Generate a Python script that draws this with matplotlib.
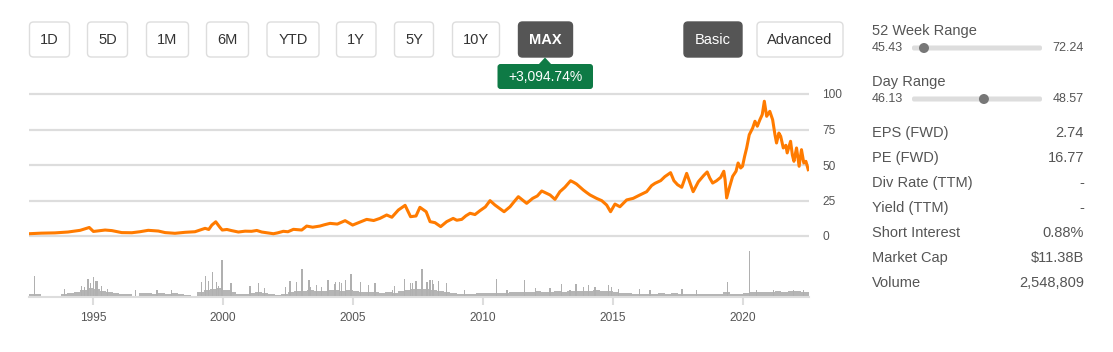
import numpy as np
import matplotlib
matplotlib.use('Agg')
import matplotlib.pyplot as plt
from matplotlib.patches import FancyBboxPatch, Circle, Polygon

plt.rcParams['font.family'] = ['Liberation Sans', 'DejaVu Sans']

# price history (decimal year, price in $)
price_years = [1992.53, 1993.0, 1993.53, 1994.03, 1994.5, 1994.85, 1995.01, 1995.2, 1995.46, 1995.72,
               1996.1, 1996.49, 1996.8, 1997.12, 1997.51, 1997.77, 1998.15, 1998.54, 1998.92, 1999.31,
               1999.45, 1999.57, 1999.72, 1999.88, 1999.97, 2000.15, 2000.33, 2000.59, 2000.85, 2001.1,
               2001.3, 2001.49, 2001.94, 2002.1, 2002.32, 2002.5, 2002.71, 2003.03, 2003.22, 2003.45,
               2003.73, 2003.9, 2004.12, 2004.4, 2004.7, 2004.99, 2005.25, 2005.53, 2005.8,
               2006.04, 2006.3, 2006.5, 2006.75, 2007.01, 2007.22, 2007.43, 2007.58, 2007.82, 2007.97,
               2008.16, 2008.38, 2008.61, 2008.86, 2009.0, 2009.19, 2009.35, 2009.51, 2009.7, 2009.89,
               2010.1, 2010.28, 2010.47, 2010.65, 2010.82, 2011.05, 2011.2, 2011.37, 2011.69, 2011.92,
               2012.1, 2012.27, 2012.59, 2012.78, 2012.97, 2013.16, 2013.38, 2013.5, 2013.61, 2013.87,
               2014.0, 2014.13, 2014.38, 2014.58, 2014.77, 2014.92, 2015.09, 2015.28, 2015.54, 2015.79,
               2016.05, 2016.31, 2016.5, 2016.63, 2016.85, 2017.01, 2017.23, 2017.36, 2017.5, 2017.66,
               2017.85, 2018.1, 2018.3, 2018.51, 2018.64, 2018.74, 2018.85,
               2019.0, 2019.16, 2019.28, 2019.33, 2019.39, 2019.49, 2019.62, 2019.75, 2019.83,
               2019.93, 2020.0, 2020.08, 2020.16, 2020.26, 2020.39, 2020.48, 2020.57, 2020.67, 2020.76,
               2020.84, 2020.93, 2021.05, 2021.16, 2021.25, 2021.31, 2021.4, 2021.47, 2021.57, 2021.67,
               2021.72, 2021.85, 2021.92, 2021.98, 2022.08, 2022.18, 2022.27, 2022.36, 2022.44, 2022.53]
price_values = [1.6, 2.0, 2.2, 2.8, 4.0, 6.0, 3.2, 3.6, 4.2, 3.8,
                2.4, 2.3, 3.0, 4.0, 3.5, 2.4, 1.9, 2.6, 3.0, 5.4,
                4.6, 7.7, 10.0, 6.1, 4.2, 4.6, 3.8, 2.8, 3.4, 3.3,
                3.9, 2.8, 1.6, 2.2, 3.3, 3.0, 4.7, 4.2, 7.0, 6.2,
                7.0, 7.9, 8.9, 8.4, 10.8, 7.7, 9.6, 11.7, 10.9,
                12.4, 14.8, 13.2, 18.3, 21.6, 13.6, 14.1, 20.2, 17.1, 10.1,
                9.4, 6.6, 10.1, 12.4, 11.1, 11.7, 14.2, 16.0, 15.1, 17.8,
                20.5, 24.9, 21.8, 19.4, 17.1, 20.6, 24.0, 27.7, 23.0, 26.5,
                28.2, 31.7, 28.9, 25.8, 31.2, 34.3, 38.9, 37.8, 36.6, 32.4,
                30.6, 28.9, 26.5, 24.9, 21.8, 17.1, 22.5, 20.6, 25.4, 26.5,
                28.9, 31.2, 35.5, 37.1, 39.0, 41.8, 44.6, 38.9, 36.1, 34.3,
                44.1, 31.2, 38.2, 42.7, 45.1, 40.8, 37.3,
                38.9, 41.3, 45.6, 39.6, 26.8, 33.8, 42.0, 45.6, 51.4,
                47.9, 49.1, 56.0, 62.0, 71.3, 76.0, 80.8, 77.3, 81.9, 85.5,
                94.9, 84.3, 87.8, 81.9, 71.3, 65.5, 72.5, 70.2, 62.0, 63.9,
                58.5, 66.7, 57.0, 52.6, 62.0, 49.1, 60.8, 51.4, 52.6, 46.7]

# quarterly typical volume (millions of shares), first quarter starts mid-1992
vol_first_quarter = 1992.5
vol_base = [1.5, 1.5,
            0.5, 0.25, 0.25, 1.5,
            2.0, 2.5, 3.5, 4.5,
            4.0, 3.0, 2.5, 2.0,
            1.5, 1.5, 0.25, 2.0,
            2.0, 1.5, 2.0, 1.5,
            2.0, 1.5, 1.0, 0.25,
            2.5, 3.5, 4.0, 4.5,
            3.5, 2.5, 1.5, 1.5,
            2.0, 2.5, 2.0, 1.5,
            1.0, 1.5, 2.5, 3.0,
            3.0, 3.5, 3.0, 3.0,
            3.5, 3.5, 3.0, 3.5,
            3.0, 2.5, 2.5, 2.5,
            2.0, 2.5, 2.0, 3.0,
            3.5, 4.0, 4.0, 4.0,
            3.5, 3.0, 2.5, 2.0,
            1.5, 1.5, 1.5, 2.0,
            2.0, 2.0, 2.0, 2.0,
            2.5, 2.5, 2.5, 2.5,
            3.0, 2.5, 2.5, 3.0,
            2.5, 3.0, 3.0, 3.0,
            3.0, 3.5, 3.0, 3.0,
            2.5, 2.0, 2.0, 1.5,
            1.5, 1.5, 1.5, 2.0,
            1.5, 2.0, 1.5, 1.5,
            1.5, 1.5, 1.5, 1.5,
            1.5, 2.5, 1.5, 1.5,
            2.0, 2.5, 2.5, 2.5,
            2.5, 3.0, 2.5, 3.0,
            3.0, 2.5, 2.5]

# single-day volume spikes (decimal year, millions)
spike_years = [1992.75, 1993.89, 1994.55, 1994.66, 1994.8, 1994.9, 1995.0, 1995.11, 1995.15,
               1995.33, 1995.54, 1996.64, 1997.46, 1998.01, 1999.18, 1999.34, 1999.45, 1999.58,
               1999.76, 1999.83, 1999.96, 2000.31, 2001.04, 2001.35, 2001.59, 2002.41, 2002.58,
               2002.83, 2003.04, 2003.31, 2003.37, 2003.6, 2003.79, 2004.04, 2004.3, 2004.34,
               2004.48, 2004.55, 2004.73, 2004.93, 2005.3, 2005.6, 2005.85, 2006.54, 2006.6,
               2007.0, 2007.22, 2007.3, 2007.43, 2007.66, 2007.85, 2007.97, 2008.05, 2008.1,
               2008.31, 2008.6, 2009.29, 2010.52, 2010.93, 2011.62, 2012.04, 2012.59, 2013.04,
               2013.36, 2013.59, 2013.87, 2014.06, 2014.32, 2014.83, 2014.96, 2015.22, 2016.05,
               2016.44, 2017.67, 2018.23, 2019.43, 2020.26, 2020.54, 2021.18, 2021.95, 2022.34]
spike_vols = [10.5, 4, 5.5, 5, 9, 7, 10, 8, 8,
              5.5, 4, 3.5, 3.5, 3.5, 7.5, 10.5, 8, 12.5,
              7.5, 5.5, 18.5, 7, 5.5, 7, 4.5, 5, 8,
              7.5, 14, 8.5, 5, 6, 5, 8.5, 6.5, 7.5,
              7.5, 7, 8.5, 11.5, 7.5, 6, 7, 3.5, 5.5,
              9, 7, 7, 8, 14, 7.5, 8.5, 8.5, 6.5,
              8, 7, 3.5, 9, 3.5, 8.5, 4.5, 4.5, 6.3,
              3.7, 6.3, 5, 5.8, 5, 5.8, 5, 4, 4,
              3.3, 4, 3.3, 7.5, 23, 3.3, 3.3, 3.3, 3.3]

year_ticks = [1995, 2000, 2005, 2010, 2015, 2020]
price_ticks = [0, 25, 50, 75, 100]

range_buttons = ['1D', '5D', '1M', '6M', 'YTD', '1Y', '5Y', '10Y', 'MAX']
change_label = '+3,094.74%'
stats_labels = ['EPS (FWD)', 'PE (FWD)', 'Div Rate (TTM)', 'Yield (TTM)',
                'Short Interest', 'Market Cap', 'Volume']
stats_values = ['2.74', '16.77', '-', '-', '0.88%', '$11.38B', '2,548,809']
week52 = (45.43, 72.24, 47.9)
day_range = (46.13, 48.57, 47.48)

W, H = 1113, 352
fig = plt.figure(figsize=(W / 100, H / 100), dpi=100)


def px_rect(x0, y0, x1, y1):
    return [x0 / W, 1 - y1 / H, (x1 - x0) / W, (y1 - y0) / H]


xlim = (1992.53, 2022.56)
grey_txt = '#555555'

# price chart
ax = fig.add_axes(px_rect(29, 91.16, 809, 238.84))
ax.plot(price_years, price_values, color='#ff7b00', lw=2.2, solid_joinstyle='round')
ax.set_xlim(*xlim)
ax.set_ylim(-2, 102)
ax.set_yticks(price_ticks)
ax.yaxis.tick_right()
ax.grid(axis='y', color='#dddddd', lw=1.6)
ax.set_axisbelow(True)
ax.tick_params(axis='y', length=0, pad=9.4, labelsize=8.6, labelcolor=grey_txt)
ax.set_xticks([])
for s in ax.spines.values():
    s.set_visible(False)

# volume chart
vax = fig.add_axes(px_rect(29, 250, 809, 297))
q_pos = vol_first_quarter + 0.25 * np.arange(len(vol_base))
vax.bar(q_pos, vol_base, width=0.25, align='edge', color='#b5b5b5', lw=0)
vax.bar(spike_years, spike_vols, width=0.045, color='#b0b0b0', lw=0)
vax.set_xlim(*xlim)
vax.set_ylim(0, 23.5)
vax.set_yticks([])
vax.set_xticks(year_ticks)
vax.set_xticklabels([str(y) for y in year_ticks])
vax.tick_params(axis='x', length=6, width=1.5, color='#dddddd', pad=5,
                labelsize=8.6, labelcolor=grey_txt)
for k, s in vax.spines.items():
    s.set_visible(k == 'bottom')
vax.spines['bottom'].set_color('#dddddd')
vax.spines['bottom'].set_linewidth(1.5)
vax.patch.set_alpha(0)

# overlay in pixel coordinates for the page widgets
ov = fig.add_axes([0, 0, 1, 1])
ov.set_xlim(0, W)
ov.set_ylim(H, 0)
ov.axis('off')
ov.patch.set_alpha(0)


def button(x0, x1, label, dark=False, bold=False):
    ov.add_patch(FancyBboxPatch((x0, 22), x1 - x0, 35,
                                boxstyle='round,pad=0,rounding_size=4',
                                fc='#555555' if dark else 'white',
                                ec='#555555' if dark else '#dddddd', lw=1))
    ov.text((x0 + x1) / 2, 40, label, ha='center', va='center',
            color='white' if dark else '#333333', fontsize=10.5,
            fontweight='bold' if bold else 'normal')


btn_edges = [(29.5, 69.5), (87.5, 127.5), (146.5, 188.5), (206.5, 248.5), (267, 319),
             (336.5, 376), (394.5, 433.5), (452.5, 499.5), (518.5, 572.5)]
for lab, (x0, x1) in zip(range_buttons, btn_edges):
    button(x0, x1, lab, dark=(lab == 'MAX'), bold=(lab == 'MAX'))
button(684, 742, 'Basic', dark=True)
button(757, 843, 'Advanced')

# change badge
ov.add_patch(FancyBboxPatch((497.5, 64), 95.5, 25, boxstyle='round,pad=0,rounding_size=3',
                            fc='#0e7a45', ec='none'))
ov.add_patch(Polygon([(538.5, 64.5), (545, 57.5), (551.5, 64.5)], closed=True,
                     fc='#0e7a45', ec='none'))
ov.text(545.2, 76.8, change_label, ha='center', va='center', color='white', fontsize=10)


# right side panel
def range_row(y_title, title, lo, hi, cur):
    ov.text(872, y_title, title, ha='left', va='center', color=grey_txt, fontsize=10.5)
    yb = y_title + 17
    ov.text(872, yb, f'{lo:.2f}', ha='left', va='center', color=grey_txt, fontsize=9)
    ov.text(1084, yb, f'{hi:.2f}', ha='right', va='center', color=grey_txt, fontsize=9)
    ov.add_patch(FancyBboxPatch((912, yb - 2.5), 130, 5, boxstyle='round,pad=0,rounding_size=2',
                                fc='#dddddd', ec='none'))
    kx = 912 + 130 * (cur - lo) / (hi - lo)
    ov.add_patch(Circle((kx, yb), 5, fc='#777777', ec='none'))


range_row(31, '52 Week Range', *week52)
range_row(82, 'Day Range', *day_range)

for i, (lab, val) in enumerate(zip(stats_labels, stats_values)):
    y = 133 + 25 * i
    ov.text(872, y, lab, ha='left', va='center', color=grey_txt, fontsize=10.5)
    ov.text(1084, y, val, ha='right', va='center', color=grey_txt, fontsize=10.5)

fig.savefig('out.png', dpi=100)
